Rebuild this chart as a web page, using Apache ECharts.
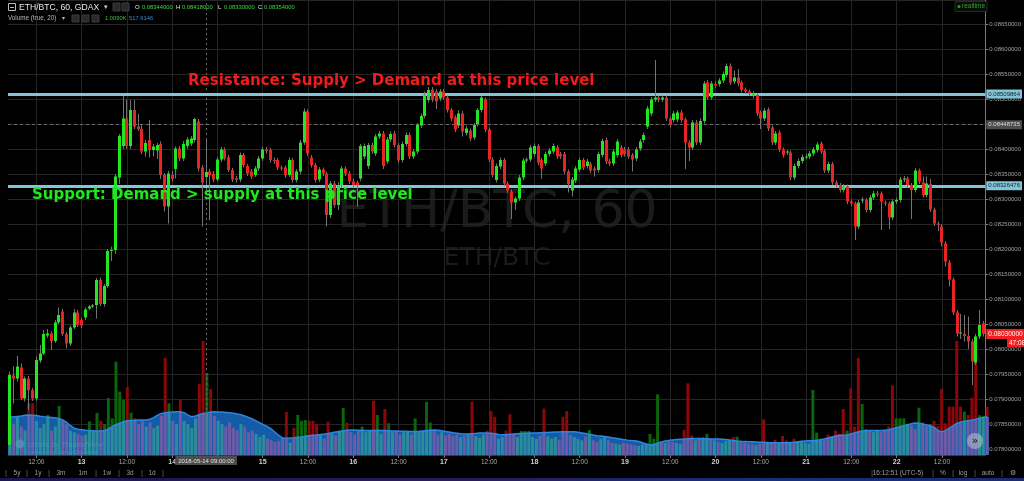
<!DOCTYPE html>
<html><head><meta charset="utf-8">
<script src="https://cdn.jsdelivr.net/npm/echarts@6/dist/echarts.min.js"></script>
<style>html,body{margin:0;padding:0;background:#000;}#c{width:1024px;height:481px;}</style>
</head><body><div id="c"></div>
<script>
// ---- hourly ETH/BTC candles, 2018-05-12 05:00 .. 2018-05-22 23:00 ----
const opens=[
.07808,.07947,.07941,.07963,.07901,.07941,.07918,.07901,.07977,.07991,
.08027,.08031,.08016,.08053,.08075,.08030,.08011,.08043,.08073,.08058,
.08063,.08081,.08085,.08088,.08138,.08090,.08126,.08196,.08198,.08343,
.08406,.08461,.08406,.08478,.08445,.08440,.08395,.08418,.08398,.08397,
.08410,.08348,.08285,.08348,.08360,.08401,.08381,.08406,.08411,.08418,
.08455,.08363,.08344,.08355,.08350,.08339,.08379,.08399,.08383,.08358,
.08341,.08339,.08388,.08366,.08355,.08348,.08361,.08381,.08399,.08398,
.08378,.08378,.08363,.08363,.08348,.08378,.08338,.08355,.08413,.08475,
.08383,.08368,.08339,.08359,.08351,.08268,.08331,.08288,.08328,.08361,
.08351,.08335,.08333,.08341,.08385,.08366,.08408,.08391,.08425,.08431,
.08375,.08419,.08431,.08408,.08378,.08410,.08428,.08385,.08395,.08447,
.08466,.08498,.08519,.08515,.08501,.08515,.08503,.08478,.08463,.08447,
.08471,.08432,.08437,.08423,.08450,.08478,.08499,.08439,.08379,.08338,
.08365,.08378,.08331,.08315,.08293,.08301,.08343,.08377,.08379,.08390,
.08406,.08378,.08371,.08390,.08395,.08403,.08390,.08390,.08355,.08317,
.08337,.08359,.08378,.08366,.08370,.08361,.08358,.08388,.08418,.08375,
.08371,.08388,.08403,.08399,.08399,.08388,.08381,.08401,.08418,.08445,
.08471,.08499,.08503,.08499,.08503,.08461,.08458,.08459,.08473,.08459,
.08413,.08403,.08453,.08413,.08456,.08533,.08503,.08530,.08530,.08537,
.08548,.08566,.08535,.08543,.08533,.08519,.08515,.08506,.08508,.08473,
.08461,.08479,.08443,.08413,.08433,.08399,.08393,.08393,.08343,.08366,
.08376,.08384,.08385,.08391,.08398,.08411,.08396,.08357,.08370,.08333,
.08328,.08318,.08325,.08295,.08291,.08245,.08297,.08298,.08278,.08303,
.08311,.08311,.08293,.08291,.08263,.08295,.08298,.08339,.08341,.08328,
.08318,.08357,.08333,.08308,.08330,.08279,.08251,.08245,.08211,.08173,
.08139,.08073,.08031,.08030,.08026,.08015,.07973,.08025,.08051];
const closes=[
.07948,.07941,.07965,.07901,.07941,.07918,.07901,.07978,.07991,.08030,
.08031,.08016,.08053,.08068,.08030,.08011,.08043,.08073,.08048,.08047,
.08079,.08085,.08087,.08138,.08090,.08126,.08196,.08198,.08345,.08426,
.08461,.08406,.08478,.08445,.08440,.08395,.08412,.08398,.08405,.08408,
.08348,.08285,.08351,.08340,.08401,.08381,.08410,.08419,.08421,.08460,
.08361,.08333,.08354,.08348,.08339,.08379,.08399,.08381,.08358,.08339,
.08338,.08388,.08368,.08351,.08345,.08361,.08381,.08399,.08396,.08378,
.08376,.08363,.08361,.08348,.08378,.08338,.08355,.08413,.08475,.08391,
.08368,.08338,.08359,.08351,.08268,.08331,.08288,.08328,.08361,.08351,
.08335,.08328,.08328,.08406,.08406,.08408,.08395,.08425,.08431,.08366,
.08419,.08430,.08408,.08377,.08410,.08428,.08385,.08395,.08448,.08466,
.08508,.08518,.08499,.08495,.08515,.08503,.08478,.08461,.08439,.08471,
.08435,.08441,.08421,.08448,.08478,.08503,.08439,.08379,.08348,.08366,
.08378,.08331,.08317,.08293,.08301,.08343,.08377,.08379,.08403,.08406,
.08373,.08361,.08390,.08397,.08406,.08385,.08385,.08355,.08330,.08339,
.08361,.08378,.08363,.08375,.08357,.08357,.08390,.08416,.08375,.08371,
.08395,.08415,.08388,.08390,.08385,.08379,.08399,.08415,.08428,.08481,
.08499,.08503,.08499,.08503,.08461,.08448,.08471,.08473,.08458,.08413,
.08403,.08453,.08413,.08456,.08531,.08503,.08531,.08527,.08537,.08550,
.08566,.08533,.08543,.08531,.08518,.08515,.08511,.08511,.08471,.08461,
.08477,.08441,.08413,.08431,.08399,.08388,.08395,.08343,.08366,.08376,
.08384,.08385,.08391,.08399,.08409,.08395,.08357,.08370,.08333,.08328,
.08318,.08325,.08295,.08291,.08245,.08293,.08299,.08278,.08303,.08311,
.08310,.08295,.08291,.08263,.08295,.08298,.08339,.08341,.08328,.08318,
.08357,.08335,.08308,.08331,.08279,.08251,.08248,.08213,.08175,.08139,
.08073,.08031,.08033,.08026,.08015,.07975,.08025,.08048,.08030];
const highs=[
.07955,.07965,.07986,.07971,.07945,.07946,.07922,.07985,.08008,.08038,
.08040,.08035,.08058,.08083,.08080,.08034,.08047,.08080,.08078,.08062,
.08083,.08088,.08090,.08142,.08143,.08130,.08200,.08205,.08350,.08430,
.08506,.08499,.08498,.08498,.08470,.08450,.08418,.08458,.08410,.08412,
.08415,.08352,.08356,.08356,.08405,.08406,.08416,.08424,.08426,.08462,
.08460,.08368,.08418,.08360,.08356,.08384,.08404,.08403,.08388,.08362,
.08346,.08393,.08392,.08370,.08360,.08366,.08386,.08404,.08404,.08402,
.08383,.08382,.08367,.08367,.08383,.08382,.08360,.08418,.08481,.08479,
.08388,.08372,.08364,.08363,.08355,.08336,.08336,.08333,.08366,.08365,
.08356,.08340,.08337,.08410,.08411,.08412,.08413,.08430,.08436,.08436,
.08424,.08435,.08436,.08412,.08415,.08433,.08433,.08400,.08452,.08471,
.08515,.08524,.08524,.08520,.08520,.08520,.08507,.08482,.08467,.08478,
.08476,.08446,.08441,.08452,.08482,.08506,.08503,.08443,.08383,.08371,
.08383,.08382,.08335,.08319,.08305,.08348,.08382,.08383,.08408,.08411,
.08410,.08382,.08395,.08402,.08411,.08408,.08394,.08394,.08359,.08344,
.08366,.08383,.08382,.08380,.08374,.08365,.08395,.08421,.08423,.08380,
.08400,.08420,.08408,.08404,.08404,.08392,.08404,.08420,.08433,.08486,
.08504,.08578,.08507,.08507,.08507,.08465,.08476,.08478,.08478,.08463,
.08417,.08458,.08458,.08461,.08536,.08538,.08536,.08535,.08542,.08555,
.08571,.08571,.08557,.08560,.08537,.08523,.08519,.08516,.08512,.08477,
.08482,.08483,.08447,.08436,.08437,.08403,.08398,.08397,.08371,.08381,
.08389,.08390,.08396,.08404,.08414,.08415,.08400,.08375,.08374,.08337,
.08332,.08330,.08329,.08299,.08295,.08298,.08304,.08302,.08308,.08316,
.08316,.08315,.08297,.08295,.08300,.08303,.08344,.08346,.08345,.08332,
.08362,.08361,.08345,.08345,.08340,.08283,.08255,.08250,.08216,.08178,
.08143,.08078,.08070,.08068,.08065,.08020,.08030,.08078,.08056];
const lows=[
.07800,.07891,.07935,.07898,.07895,.07878,.07896,.07897,.07972,.07988,
.08022,.07998,.08012,.08050,.08026,.08001,.08006,.08040,.08044,.08042,
.08058,.08078,.08082,.08061,.08086,.08085,.08122,.08176,.08190,.08330,
.08400,.08400,.08400,.08440,.08436,.08390,.08385,.08383,.08385,.08380,
.08340,.08275,.08251,.08335,.08341,.08376,.08376,.08400,.08406,.08413,
.08355,.08245,.08330,.08258,.08334,.08335,.08374,.08377,.08354,.08334,
.08333,.08334,.08363,.08346,.08340,.08344,.08356,.08376,.08391,.08373,
.08370,.08358,.08357,.08343,.08344,.08333,.08333,.08350,.08408,.08386,
.08363,.08333,.08334,.08346,.08245,.08262,.08283,.08278,.08322,.08346,
.08330,.08323,.08285,.08336,.08380,.08360,.08390,.08386,.08420,.08360,
.08370,.08414,.08403,.08372,.08373,.08405,.08380,.08380,.08390,.08442,
.08461,.08493,.08494,.08480,.08496,.08498,.08473,.08456,.08434,.08442,
.08425,.08427,.08416,.08418,.08445,.08473,.08434,.08374,.08343,.08333,
.08360,.08326,.08312,.08260,.08278,.08296,.08338,.08372,.08374,.08385,
.08368,.08340,.08366,.08385,.08390,.08380,.08380,.08350,.08313,.08305,
.08332,.08354,.08358,.08361,.08352,.08345,.08353,.08383,.08370,.08366,
.08366,.08383,.08383,.08385,.08380,.08355,.08376,.08396,.08413,.08440,
.08466,.08494,.08494,.08494,.08456,.08443,.08453,.08454,.08453,.08360,
.08376,.08398,.08408,.08408,.08451,.08498,.08498,.08522,.08525,.08532,
.08543,.08528,.08530,.08526,.08513,.08510,.08506,.08501,.08466,.08440,
.08456,.08436,.08408,.08408,.08394,.08383,.08388,.08338,.08338,.08361,
.08371,.08379,.08380,.08386,.08393,.08390,.08352,.08352,.08328,.08323,
.08313,.08313,.08290,.08286,.08218,.08240,.08292,.08273,.08273,.08298,
.08305,.08238,.08286,.08240,.08258,.08290,.08293,.08334,.08323,.08260,
.08313,.08330,.08303,.08303,.08274,.08246,.08236,.08205,.08165,.08125,
.08068,.08025,.08020,.08015,.08000,.07928,.07968,.08020,.08025];
const volumes=[
420,380,471,350,300,636,636,420,330,380,
492,300,350,603,420,380,300,280,260,240,
250,413,300,516,420,380,700,450,1148,779,
677,836,520,450,380,420,350,400,330,360,
480,1197,636,420,380,677,420,380,330,450,
873,1402,1009,812,480,420,380,350,400,330,
300,380,350,280,300,260,220,250,200,180,
160,170,200,529,150,332,492,420,430,422,
422,380,250,200,410,260,240,300,578,400,
280,250,300,350,280,300,668,492,260,566,
390,280,300,250,280,300,250,450,280,300,
652,400,300,250,280,240,260,230,250,220,
240,260,656,230,210,250,300,540,470,200,
220,300,500,260,220,295,295,295,220,200,
240,570,230,200,220,180,471,541,250,220,
200,180,230,308,180,160,200,220,180,150,
140,130,150,140,130,120,110,130,140,259,
200,746,164,150,170,160,150,140,308,882,
240,180,200,220,260,200,180,160,150,170,
180,220,226,160,150,140,130,120,140,439,
150,160,185,140,234,180,150,200,170,160,
150,140,800,275,200,180,250,220,300,260,
566,300,820,350,1197,627,320,300,280,300,
280,320,350,857,451,451,451,380,360,320,
582,400,350,380,420,360,816,390,594,594,
1402,594,533,492,705,1410,490,480,594];
const volumeMA=[
467,470,475,480,488,492,490,485,478,472,
468,462,455,448,430,400,360,330,318,312,
305,300,298,296,295,300,320,350,372,390,
410,422,425,428,430,432,430,440,460,490,
512,520,526,530,533,533,520,490,471,480,
495,510,518,530,532,530,528,524,520,513,
505,495,480,462,443,420,395,370,348,320,
280,240,209,205,208,212,218,222,230,238,
244,246,252,258,265,274,282,290,298,305,
307,306,304,303,302,300,302,304,302,300,
298,296,294,292,291,290,290,290,292,296,
300,305,307,303,298,290,282,274,268,262,
258,258,262,266,270,272,272,268,262,252,
248,250,254,258,262,266,268,270,271,272,
274,276,278,280,282,284,286,287,287,285,
280,272,264,255,245,236,234,228,220,212,
205,198,190,183,178,176,165,150,135,123,
130,145,160,172,180,186,190,195,197,200,
202,204,203,201,199,197,197,196,194,190,
184,178,172,168,166,164,162,160,158,156,
154,152,151,150,150,152,155,158,162,168,
172,175,176,180,188,198,210,222,234,242,
244,246,258,272,285,295,298,300,300,300,
300,302,310,322,335,348,360,372,384,394,
390,380,370,360,340,300,287,300,330,357,
390,402,414,422,430,440,451,460,471];

const RESISTANCE=0.08509864, SUPPORT=0.08326476, CROSS_PRICE=0.08448735, LAST_PRICE=0.08030;
const CROSS_INDEX=52;
const START_HOUR=5;

function pad(n){return (n<10?'0':'')+n;}
const categories=opens.map((_,i)=>{const d=new Date(Date.UTC(2018,4,12,START_HOUR)+i*3600000);
  return d.getUTCFullYear()+'-'+pad(d.getUTCMonth()+1)+'-'+pad(d.getUTCDate())+' '+pad(d.getUTCHours())+':00';});
const isMajor=(idx)=>((START_HOUR+idx)%24)%12===0;

const UP='#22e622', DOWN='#e82525', WICK='#747474';
const VOL_UP='#0b650b', VOL_DOWN='#8c0808', VOL_UP_IN='#2c8c9c', VOL_DOWN_IN='#6c5ca8', MA_FILL='#145ca8', MA_LINE='#2d87e1';
const chart=echarts.init(document.getElementById('c'),null,{renderer:'canvas'});

const candleData=opens.map((o,i)=>[i,o,closes[i],lows[i],highs[i]]);
// volume bar split: part covered by the MA area and part above it
const volInside=volumes.map((v,i)=>({value:Math.min(v,volumeMA[i]),itemStyle:{color:closes[i]>=opens[i]?VOL_UP_IN:VOL_DOWN_IN}}));
const volAbove=volumes.map((v,i)=>({value:Math.max(0,v-volumeMA[i]),itemStyle:{color:closes[i]>=opens[i]?VOL_UP:VOL_DOWN}}));

const font='Liberation Sans';
const T=(x,y,text,fill,size,extra)=>Object.assign({type:'text',x:x,y:y,z:100,silent:true,
  style:Object.assign({text:text,fill:fill,font:(size||7)+'px "'+font+'"',verticalAlign:'middle',align:'left'},extra||{})});
const hLabel=(txt,bg,fg)=>({show:true,position:'end',distance:1,formatter:txt,backgroundColor:bg,color:fg,fontSize:6,fontFamily:font,padding:[2,2,1,2]});

const option={
  backgroundColor:'#000',
  animation:false,
  grid:[{left:8,right:35,top:0,bottom:26},{left:8,right:35,top:255,bottom:26}],
  xAxis:[{type:'category',data:categories,gridIndex:0,
      axisLine:{show:true,lineStyle:{color:'#3a3a3a'}},
      axisTick:{show:true,alignWithLabel:true,interval:isMajor,length:3,lineStyle:{color:'#777'}},
      axisLabel:{interval:isMajor,margin:4,color:'#a8a8a8',fontSize:6.5,fontFamily:font,
        formatter:(v)=>{const h=+v.slice(11,13);return h===0?'{d|'+(+v.slice(8,10))+'}':'12:00';},
        rich:{d:{fontWeight:'bold',color:'#d0d0d0',fontSize:7,fontFamily:font}}},
      splitLine:{show:true,alignWithLabel:true,interval:isMajor,lineStyle:{color:'#252525'}}},
    {type:'category',data:categories,gridIndex:1,show:false}],
  yAxis:[{type:'value',gridIndex:0,position:'right',min:0.07788,max:0.08698,splitNumber:18,
      axisLine:{show:true,lineStyle:{color:'#7a7a7a'}},
      axisTick:{show:true,length:3,lineStyle:{color:'#7a7a7a'}},
      axisLabel:{showMinLabel:false,showMaxLabel:false,margin:4,color:'#a0a0a0',fontSize:6,fontFamily:font,
        formatter:(v)=>v.toFixed(8)},
      splitLine:{show:true,lineStyle:{color:'#252525'}}},
    {type:'value',gridIndex:1,min:0,max:2460,show:false,splitLine:{show:false}}],
  series:[
    {type:'custom',name:'VolumeMA area',xAxisIndex:1,yAxisIndex:1,z:1,silent:true,data:[[0,0]],
      renderItem:(params,api)=>{
        if(params.dataIndex!==0) return null;
        const cs=params.coordSys;
        const pts=volumeMA.map((v,i)=>api.coord([i,v]));
        const base=api.coord([0,0])[1];
        const line=[[cs.x,pts[0][1]]].concat(pts,[[cs.x+cs.width,pts[pts.length-1][1]]]);
        return {type:'polygon',shape:{points:line.concat([[cs.x+cs.width,base],[cs.x,base]])},style:{fill:MA_FILL}};
      }},
    {type:'bar',name:'Volume',xAxisIndex:1,yAxisIndex:1,stack:'vol',data:volInside,barWidth:'78%',z:2,silent:true},
    {type:'bar',name:'Volume ',xAxisIndex:1,yAxisIndex:1,stack:'vol',data:volAbove,barWidth:'78%',z:2,silent:true},
    {type:'line',name:'Volume MA',xAxisIndex:1,yAxisIndex:1,data:volumeMA,z:3,silent:true,symbol:'none',
      lineStyle:{color:MA_LINE,width:1.5}},
    {type:'custom',name:'ETH/BTC',xAxisIndex:0,yAxisIndex:0,z:5,silent:true,data:candleData,
      encode:{x:0,y:[1,2,3,4]},
      renderItem:(params,api)=>{
        const i=api.value(0),o=api.value(1),c=api.value(2),l=api.value(3),h=api.value(4);
        const pO=api.coord([i,o]),pC=api.coord([i,c]),pL=api.coord([i,l]),pH=api.coord([i,h]);
        const bw=api.size([1,0])[0];
        const w=Math.max(1,Math.round(bw*0.72));
        const x0=Math.round(pO[0]-w/2);
        const top=Math.min(pO[1],pC[1]),bot=Math.max(pO[1],pC[1]);
        const wx=x0+Math.floor(w/2)+0.5;
        return {type:'group',children:[
          {type:'line',shape:{x1:wx,y1:pH[1],x2:wx,y2:pL[1]},style:{stroke:WICK,lineWidth:1}},
          {type:'rect',shape:{x:x0,y:top,width:w,height:Math.max(1,bot-top)},style:{fill:c>=o?UP:DOWN}}
        ]};
      }},
    {type:'line',name:'levels',xAxisIndex:0,yAxisIndex:0,data:closes,z:6,silent:true,symbol:'none',
      lineStyle:{opacity:0,width:0},
      markLine:{silent:true,precision:8,symbol:['none','none'],animation:false,
        data:[
          {yAxis:CROSS_PRICE,lineStyle:{color:'#6a6a6a',width:1,type:[3,3]},label:hLabel(CROSS_PRICE.toFixed(8),'#4d4d4d','#dcdcdc')},
          {xAxis:categories[CROSS_INDEX],lineStyle:{color:'#6a6a6a',width:1,type:[2,3]},
            label:{show:true,position:'start',distance:1,formatter:'2018-05-14 09:00:00',backgroundColor:'#4d4d4d',color:'#e0e0e0',fontSize:6,fontFamily:font,padding:[2,3,1,3]}},
          {yAxis:RESISTANCE,lineStyle:{color:'#82c4d8',width:3,type:'solid'},label:hLabel(RESISTANCE.toFixed(8),'#82c4d8','#10222a')},
          {yAxis:SUPPORT,lineStyle:{color:'#82c4d8',width:3,type:'solid'},label:hLabel(SUPPORT.toFixed(8),'#82c4d8','#10222a')},
          {yAxis:LAST_PRICE,lineStyle:{color:'rgba(0,0,0,0)',width:1,type:'solid'},
            label:{show:true,position:'end',distance:1,formatter:LAST_PRICE.toFixed(8),backgroundColor:'#f01e1e',color:'#ffffff',fontSize:6.5,fontFamily:font,padding:[2,2,1,2],opacity:1}}
        ]}}
  ],
  graphic:[
    {type:'text',x:497,y:213,z:-1,silent:true,style:{text:'ETH/BTC, 60',fill:'#1b1b1b',font:'52px "DejaVu Sans"',align:'center',verticalAlign:'middle'}},
    {type:'text',x:497,y:258,z:-1,silent:true,style:{text:'ETH/BTC',fill:'#1b1b1b',font:'25px "DejaVu Sans"',align:'center',verticalAlign:'middle'}},
    {type:'text',x:188,y:81,z:100,silent:true,style:{text:'Resistance: Supply > Demand at this price level',fill:'#f01c1c',font:'bold 15px "DejaVu Sans"',verticalAlign:'middle'}},
    {type:'text',x:32,y:195,z:100,silent:true,style:{text:'Support: Demand > supply at this price level',fill:'#1ee81e',font:'bold 15px "DejaVu Sans"',verticalAlign:'middle'}},
    // header
    {type:'rect',z:100,silent:true,shape:{x:8.5,y:3.5,width:7,height:7},style:{fill:null,stroke:'#bbb',lineWidth:1}},
    {type:'line',z:100,silent:true,shape:{x1:10,y1:7.5,x2:14,y2:7.5},style:{stroke:'#bbb',lineWidth:1}},
    T(19,7.5,'ETH/BTC, 60, GDAX','#e8e8e8',8.6),
    T(104,7.5,'\u25BE','#cfcfcf',7),
    {type:'rect',z:100,silent:true,shape:{x:113,y:3,width:7,height:8},style:{fill:'#2a2a2a',stroke:'#3a3a3a'}},
    {type:'rect',z:100,silent:true,shape:{x:122,y:3,width:7,height:8},style:{fill:'#2a2a2a',stroke:'#3a3a3a'}},
    T(135,7.5,'O','#e8e8e8',6),T(142,7.5,'0.08344000','#3ddc3d',5.8),
    T(176,7.5,'H','#e8e8e8',6),T(182,7.5,'0.08418000','#3ddc3d',5.8),
    T(218,7.5,'L','#e8e8e8',6),T(224,7.5,'0.08330000','#3ddc3d',5.8),
    T(258,7.5,'C','#e8e8e8',6),T(264,7.5,'0.08354000','#3ddc3d',5.8),
    T(8,18.5,'Volume (true, 20)','#b8b8b8',6.3),
    T(62,18.5,'\u25BE','#b8b8b8',6),
    {type:'rect',z:100,silent:true,shape:{x:72,y:15,width:7,height:7},style:{fill:'#2a2a2a',stroke:'#3a3a3a'}},
    {type:'rect',z:100,silent:true,shape:{x:82,y:15,width:7,height:7},style:{fill:'#2a2a2a',stroke:'#3a3a3a'}},
    {type:'rect',z:100,silent:true,shape:{x:92,y:15,width:7,height:7},style:{fill:'#2a2a2a',stroke:'#3a3a3a'}},
    T(105,18.5,'1.0090K','#47b847',5.8),T(129,18.5,'517.6146','#2f8fe6',5.8),
    // realtime
    {type:'rect',z:100,silent:true,shape:{x:955,y:1.5,width:32,height:10},style:{fill:'#070d07',stroke:'#1d321d'}},
    {type:'circle',z:101,silent:true,shape:{cx:959,cy:6.5,r:1.5},style:{fill:'#2fa02f'}},
    T(962,6.7,'realtime','#3a9a3a',6.5),
    // 47:08 countdown
    {type:'rect',z:100,silent:true,shape:{x:1007,y:338,width:17,height:9},style:{fill:'#f01e1e'}},
    T(1009,342.8,'47:08','#ffffff',6.5),
    // scroll button
    {type:'circle',z:100,silent:true,shape:{cx:975,cy:441,r:8},style:{fill:'rgba(190,196,206,0.55)'}},
    {type:'text',x:975,y:441,z:101,silent:true,style:{text:'\u00BB',fill:'#23313f',font:'bold 10px "DejaVu Sans"',align:'center',verticalAlign:'middle'}},
    // logo
    {type:'circle',z:100,silent:true,shape:{cx:20,cy:444,r:4.5},style:{fill:'rgba(90,170,200,0.55)'}},
    T(29,444.5,'charts by TradingView','rgba(90,160,190,0.55)',7.5),
    T(29,452.5,'powered by Coinigy Datafeeds','rgba(90,160,190,0.5)',5),
    // bottom toolbar left
    T(6,473,'|','#6a6a6a',8,{align:'center'}),T(17,473,'5y','#9c9c9c',6.5,{align:'center'}),
    T(27,473,'|','#6a6a6a',8,{align:'center'}),T(38,473,'1y','#9c9c9c',6.5,{align:'center'}),
    T(49,473,'|','#6a6a6a',8,{align:'center'}),T(61,473,'3m','#9c9c9c',6.5,{align:'center'}),
    T(83,473,'1m','#9c9c9c',6.5,{align:'center'}),
    T(96,473,'|','#6a6a6a',8,{align:'center'}),T(107,473,'1w','#9c9c9c',6.5,{align:'center'}),
    T(119,473,'|','#6a6a6a',8,{align:'center'}),T(130,473,'3d','#9c9c9c',6.5,{align:'center'}),
    T(142,473,'|','#6a6a6a',8,{align:'center'}),T(152,473,'1d','#9c9c9c',6.5,{align:'center'}),
    T(163,473,'|','#6a6a6a',8,{align:'center'}),
    // bottom toolbar right
    T(872,473,'|','#6a6a6a',8,{align:'center'}),T(898,473,'16:12:51 (UTC-5)','#9c9c9c',6.5,{align:'center'}),
    T(933,473,'|','#6a6a6a',8,{align:'center'}),T(943,473,'%','#9c9c9c',6.5,{align:'center'}),
    T(953,473,'|','#6a6a6a',8,{align:'center'}),T(963,473,'log','#9c9c9c',6.5,{align:'center'}),
    T(975,473,'|','#6a6a6a',8,{align:'center'}),T(988,473,'auto','#9c9c9c',6.5,{align:'center'}),
    T(1002,473,'|','#6a6a6a',8,{align:'center'}),T(1013,473,'\u2699','#9c9c9c',7,{align:'center'}),
    // bottom strip
    {type:'rect',z:100,silent:true,shape:{x:0,y:478,width:1024,height:3},
      style:{fill:new echarts.graphic.LinearGradient(0,0,1,0,[{offset:0,color:'#1a1650'},{offset:0.45,color:'#2a1a5a'},{offset:0.75,color:'#14307a'},{offset:1,color:'#1a2a70'}])}}
  ]
};
chart.setOption(option);
</script></body></html>
